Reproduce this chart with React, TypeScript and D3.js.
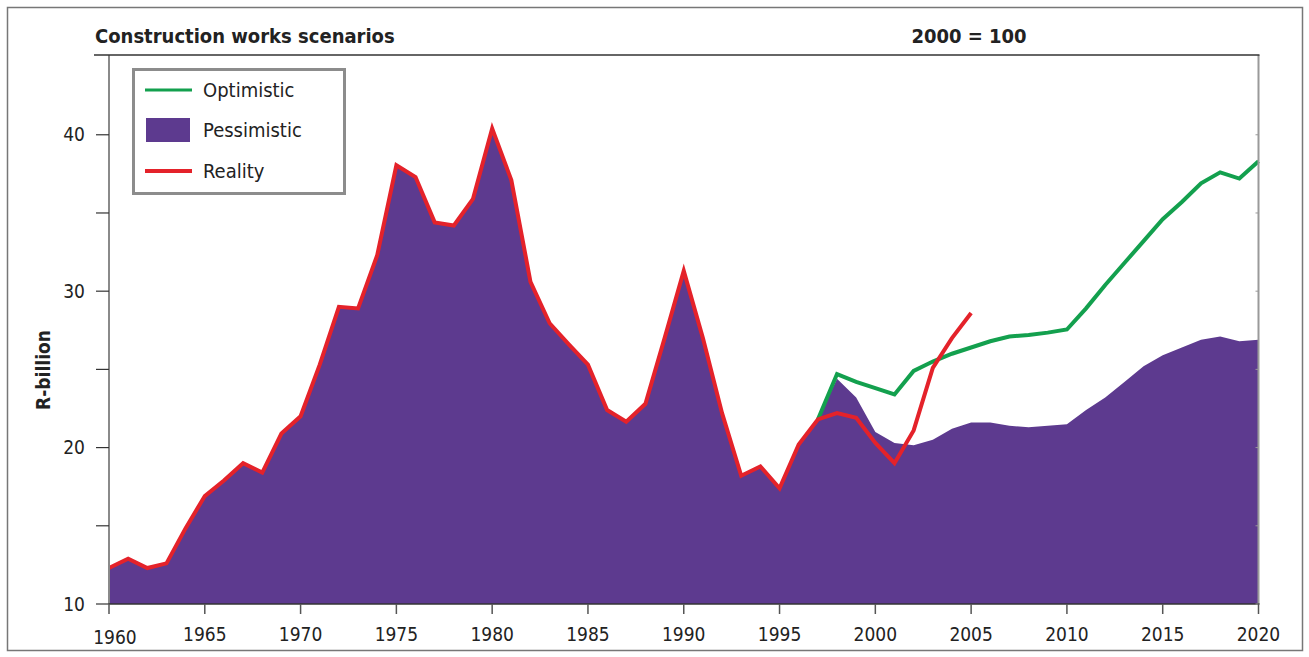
import React, { useEffect, useRef } from "react";
import * as d3 from "d3";

const years: number[] = d3.range(1960, 2021);

// Reality (red line) 1960-2005
const realityYears: number[] = d3.range(1960, 2006);
const realityValues: number[] = [
  12.3, 12.9, 12.3, 12.6, 14.85, 16.9, 17.9, 19.0, 18.4, 20.9,
  22.0, 25.3, 29.0, 28.9, 32.3, 38.05, 37.3, 34.4, 34.2, 35.9,
  40.4, 37.1, 30.6, 27.95, 26.6, 25.3, 22.4, 21.65, 22.8, 27.0,
  31.3, 27.0, 22.2, 18.2, 18.8, 17.4, 20.2, 21.8, 22.2, 21.9,
  20.3, 19.0, 21.1, 25.1, 27.0, 28.6,
];

// Pessimistic (purple area) 1998-2020 (before 1998 equal to reality)
const pessimisticLater: number[] = [
  24.4, 23.2, 21.0, 20.3, 20.15, 20.5, 21.2, 21.6, 21.6, 21.4,
  21.3, 21.4, 21.5, 22.4, 23.2, 24.2, 25.2, 25.9, 26.4, 26.9,
  27.1, 26.8, 26.9,
];

// Optimistic (green line) 1997-2020
const optimisticYears: number[] = d3.range(1997, 2021);
const optimisticValues: number[] = [
  21.8, 24.7, 24.2, 23.8, 23.4, 24.9, 25.5, 26.0, 26.4, 26.8,
  27.1, 27.2, 27.35, 27.55, 28.9, 30.4, 31.8, 33.2, 34.6, 35.7,
  36.9, 37.6, 37.2, 38.3,
];

const xTicks: number[] = [1960, 1965, 1970, 1975, 1980, 1985, 1990, 1995, 2000, 2005, 2010, 2015, 2020];
const yTicks: number[] = [10, 15, 20, 25, 30, 35, 40];
const yLabels: number[] = [10, 20, 30, 40];

const title = "Construction works scenarios";
const subtitle = "2000 = 100";
const yTitle = "R-billion";
const legendItems = ["Optimistic", "Pessimistic", "Reality"];

const FONT = "'Liberation Sans Narrow', 'DejaVu Sans Condensed', 'Arial Narrow', sans-serif";
const PURPLE = "#5d3a8f";
const RED = "#e4222a";
const GREEN = "#13a04e";

export default function App() {
  const ref = useRef<SVGSVGElement | null>(null);

  useEffect(() => {
    document.body.style.margin = "0";
    const svg = d3.select(ref.current);
    svg.selectAll("*").remove();

    const left = 109, right = 1258.5, top = 55, bottom = 604;
    const x = d3.scaleLinear().domain([1960, 2020]).range([left, right]);
    const y = d3.scaleLinear().domain([10, 45.1]).range([bottom, top]);

    // Outer frame
    svg.append("rect").attr("x", 7.5).attr("y", 7.5).attr("width", 1295).attr("height", 643)
      .attr("fill", "#fff").attr("stroke", "#777").attr("stroke-width", 1.5);

    // Pessimistic area data
    const pessData = years.map((yr, i) => ({
      yr,
      v: yr < 1998 ? realityValues[i] : pessimisticLater[yr - 1998],
    }));
    const area = d3.area<{ yr: number; v: number }>()
      .x(d => x(d.yr)).y0(y(10)).y1(d => y(d.v));
    svg.append("path").datum(pessData).attr("d", area).attr("fill", PURPLE);

    // Optimistic line
    const line = d3.line<[number, number]>().x(d => x(d[0])).y(d => y(d[1]));
    svg.append("path")
      .datum(optimisticYears.map((yr, i) => [yr, optimisticValues[i]] as [number, number]))
      .attr("d", line).attr("fill", "none").attr("stroke", GREEN).attr("stroke-width", 4)
      .attr("stroke-linejoin", "miter");

    // Reality line
    svg.append("path")
      .datum(realityYears.map((yr, i) => [yr, realityValues[i]] as [number, number]))
      .attr("d", line).attr("fill", "none").attr("stroke", RED).attr("stroke-width", 4)
      .attr("stroke-linejoin", "miter");

    // Axes lines
    svg.append("line").attr("x1", left).attr("x2", left).attr("y1", top).attr("y2", bottom)
      .attr("stroke", "#8a8a8a").attr("stroke-width", 2);
    svg.append("line").attr("x1", right).attr("x2", right).attr("y1", top).attr("y2", bottom)
      .attr("stroke", "#9a9a9a").attr("stroke-width", 2);
    svg.append("line").attr("x1", 94).attr("x2", right + 1).attr("y1", top).attr("y2", top)
      .attr("stroke", "#333").attr("stroke-width", 1.5);
    svg.append("line").attr("x1", left).attr("x2", right + 1).attr("y1", bottom).attr("y2", bottom)
      .attr("stroke", "#333").attr("stroke-width", 1.5);

    // Y ticks
    yTicks.forEach(t => {
      svg.append("line").attr("x1", 96).attr("x2", left).attr("y1", y(t)).attr("y2", y(t))
        .attr("stroke", "#333").attr("stroke-width", 1.2);
      svg.append("line").attr("x1", right - 3).attr("x2", right).attr("y1", y(t)).attr("y2", y(t))
        .attr("stroke", "#999").attr("stroke-width", 1);
    });
    yLabels.forEach(t => {
      svg.append("text").attr("x", 85).attr("y", y(t)).attr("dy", "0.35em")
        .attr("text-anchor", "end").attr("font-family", FONT).attr("font-size", 19)
        .attr("fill", "#222").text(String(t));
    });

    // X ticks
    xTicks.forEach(t => {
      svg.append("line").attr("x1", x(t)).attr("x2", x(t)).attr("y1", bottom).attr("y2", bottom + 10)
        .attr("stroke", "#555").attr("stroke-width", 1.5);
      svg.append("text").attr("x", t === 1960 ? x(t) + 6 : x(t)).attr("y", t === 1960 ? 644 : 641)
        .attr("text-anchor", "middle").attr("font-family", FONT).attr("font-size", 19)
        .attr("fill", "#222").text(String(t));
    });

    // Titles
    svg.append("text").attr("x", 95).attr("y", 43).attr("font-family", FONT)
      .attr("font-size", 20).attr("font-weight", "bold").attr("fill", "#222").text(title);
    svg.append("text").attr("x", 969).attr("y", 43).attr("text-anchor", "middle").attr("font-family", FONT)
      .attr("font-size", 20).attr("font-weight", "bold").attr("fill", "#222").text(subtitle);
    svg.append("text").attr("transform", "translate(50,370) rotate(-90)")
      .attr("text-anchor", "middle").attr("font-family", FONT).attr("font-size", 19)
      .attr("font-weight", "bold").attr("fill", "#222").text(yTitle);

    // Legend
    const lg = svg.append("g");
    lg.append("rect").attr("x", 133.5).attr("y", 69.5).attr("width", 211).attr("height", 124)
      .attr("fill", "#fff").attr("stroke", "#8c8c8c").attr("stroke-width", 3);
    const rows = [90, 130, 171];
    lg.append("line").attr("x1", 145).attr("x2", 192).attr("y1", rows[0]).attr("y2", rows[0])
      .attr("stroke", GREEN).attr("stroke-width", 3);
    lg.append("rect").attr("x", 146).attr("y", 118).attr("width", 44).attr("height", 24)
      .attr("fill", PURPLE);
    lg.append("line").attr("x1", 145).attr("x2", 192).attr("y1", rows[2]).attr("y2", rows[2])
      .attr("stroke", RED).attr("stroke-width", 4);
    legendItems.forEach((name, i) => {
      lg.append("text").attr("x", 203).attr("y", rows[i]).attr("dy", "0.35em")
        .attr("font-family", FONT).attr("font-size", 20).attr("fill", "#222").text(name);
    });
  }, []);

  return <svg ref={ref} width={1309} height={657} style={{ display: "block" }} />;
}
